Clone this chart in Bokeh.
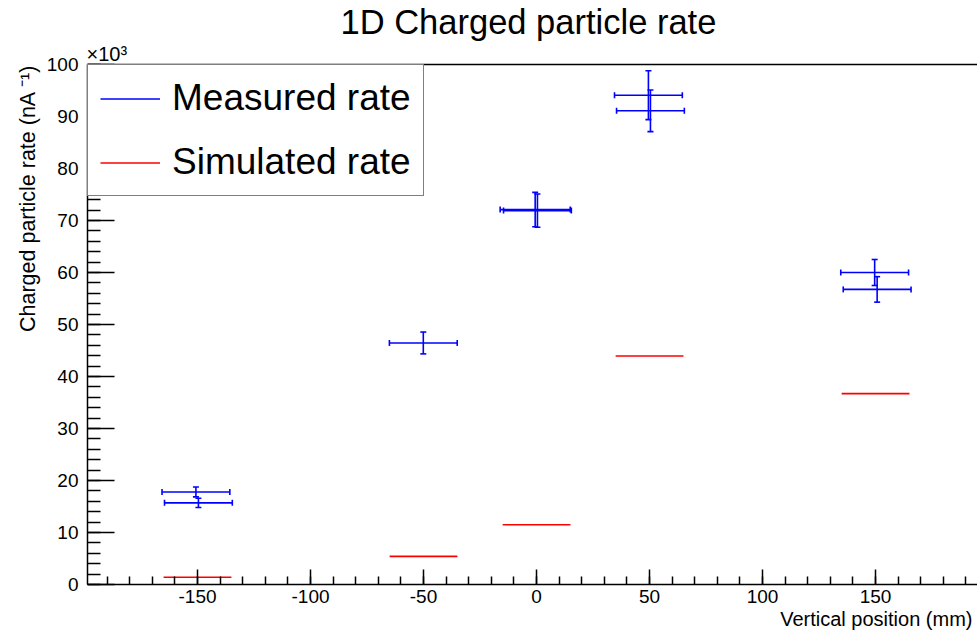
from bokeh.plotting import figure
from bokeh.models import (Range1d, FixedTicker, LinearAxis, Whisker, TeeHead, Title,
                          ColumnDataSource, Legend, LegendItem)
from bokeh.embed import file_html
from bokeh.resources import INLINE

# ---- data (rate in units of 10^3) ----
meas_x = [-150.7, -149.6, -50.1, -0.6, 0.4, 49.5, 50.4, 149.6, 150.7]
meas_y = [17.8, 15.7, 46.45, 72.1, 71.9, 94.1, 91.1, 60.0, 56.75]
meas_xerr = [15, 15, 15, 15.5, 15, 15, 15, 15, 15]
meas_yerr = [0.95, 0.9, 2.1, 3.3, 3.2, 4.7, 4.0, 2.5, 2.45]

sim_x = [-150, -50, 0, 50, 150]
sim_y = [1.4, 5.4, 11.5, 43.95, 36.7]
sim_xerr = [15, 15, 15, 15, 15]

x_major = [-150, -100, -50, 0, 50, 100, 150]
x_minor = list(range(-190, 200, 10))
y_major = list(range(0, 101, 10))
y_minor = list(range(0, 101, 2))

FONT = "Liberation Sans"
BLUE = "#0000ff"
RED = "#ff0000"
W, H = 977, 638

p = figure(width=W, height=H, output_backend="svg", toolbar_location=None,
           x_range=Range1d(-198.67, 195.1), y_range=Range1d(0, 100),
           min_border_left=87, min_border_right=0, min_border_top=64,
           min_border_bottom=54)
p.outline_line_color = None
p.xgrid.visible = False
p.ygrid.visible = False

# title
p.title.text = "1D Charged particle rate"
p.title.align = "left"
p.title.offset = 253
p.title.text_font = FONT
p.title.text_font_size = "34.5px"
p.title.text_font_style = "normal"
p.title.text_color = "black"
p.title.standoff = 0

# x axis
xa = p.xaxis[0]
xa.ticker = FixedTicker(ticks=x_major, minor_ticks=x_minor)
xa.major_label_overrides = {v: str(v) for v in x_major}
xa.major_tick_in = 15
xa.major_tick_out = 0
xa.minor_tick_in = 8
xa.minor_tick_out = 0
xa.axis_line_width = 1.5
xa.major_tick_line_width = 1.5
xa.minor_tick_line_width = 1.5
xa.major_label_text_font = FONT
xa.major_label_text_font_size = "19px"
xa.major_label_text_color = "black"
xa.major_label_standoff = 5

# y axis
ya = p.yaxis[0]
ya.ticker = FixedTicker(ticks=y_major, minor_ticks=y_minor)
ya.major_label_overrides = {v: str(v) for v in y_major}
ya.major_tick_in = 27
ya.major_tick_out = 0
ya.minor_tick_in = 13
ya.minor_tick_out = 0
ya.axis_line_width = 1.5
ya.major_tick_line_width = 1.5
ya.minor_tick_line_width = 1.5
ya.major_label_text_font = FONT
ya.major_label_text_font_size = "19px"
ya.major_label_text_color = "black"
ya.major_label_standoff = 9

# top frame line
top = LinearAxis(ticker=FixedTicker(ticks=[]), major_tick_line_color=None,
                 minor_tick_line_color=None, axis_line_width=1.5,
                 major_label_standoff=0)
p.add_layout(top, "above")

def side_title(text, size, align, offset=0, standoff=0):
    return Title(text=text, align=align, offset=offset, standoff=standoff,
                 text_font=FONT, text_font_size=size, text_font_style="normal",
                 text_color="black")

p.add_layout(side_title("\u00d710\u00b3", "20px", "left", offset=-1), "above")
p.add_layout(side_title("Vertical position (mm)", "20px", "right", offset=5), "below")
p.add_layout(side_title("Charged particle rate (nA \u207b\u00b9)", "21.5px", "right",
                        standoff=7), "left")

# ---- measured ----
msrc = ColumnDataSource(dict(
    x=meas_x, y=meas_y,
    xl=[a - b for a, b in zip(meas_x, meas_xerr)],
    xu=[a + b for a, b in zip(meas_x, meas_xerr)],
    yl=[a - b for a, b in zip(meas_y, meas_yerr)],
    yu=[a + b for a, b in zip(meas_y, meas_yerr)],
))
r_meas = p.segment(x0="xl", x1="xu", y0="y", y1="y", source=msrc,
                   line_color=BLUE, line_width=1.6)
wh = Whisker(source=msrc, base="y", lower="xl", upper="xu", dimension="width",
             line_alpha=0,
             lower_head=TeeHead(size=6, line_color=BLUE, line_width=1.6),
             upper_head=TeeHead(size=6, line_color=BLUE, line_width=1.6))
wv = Whisker(source=msrc, base="x", lower="yl", upper="yu", dimension="height",
             line_color=BLUE, line_width=1.6,
             lower_head=TeeHead(size=6, line_color=BLUE, line_width=1.6),
             upper_head=TeeHead(size=6, line_color=BLUE, line_width=1.6))
p.add_layout(wh)
p.add_layout(wv)

# ---- simulated ----
ssrc = ColumnDataSource(dict(
    x0=[a - b for a, b in zip(sim_x, sim_xerr)],
    x1=[a + b for a, b in zip(sim_x, sim_xerr)],
    y=sim_y,
))
r_sim = p.segment(x0="x0", x1="x1", y0="y", y1="y", source=ssrc,
                  line_color=RED, line_width=1.6)

legend = Legend(items=[LegendItem(label="Measured rate", renderers=[r_meas]),
                       LegendItem(label="Simulated rate", renderers=[r_sim])],
                location="top_left", margin=0, padding=12, spacing=22,
                glyph_width=60, glyph_height=39, label_height=39,
                label_standoff=12,
                label_text_font=FONT, label_text_font_size="37px",
                label_text_color="black",
                border_line_color="black", border_line_width=1.5,
                background_fill_color="white", background_fill_alpha=1.0)
p.add_layout(legend)

open("out.html", "w").write(file_html(p, INLINE))
